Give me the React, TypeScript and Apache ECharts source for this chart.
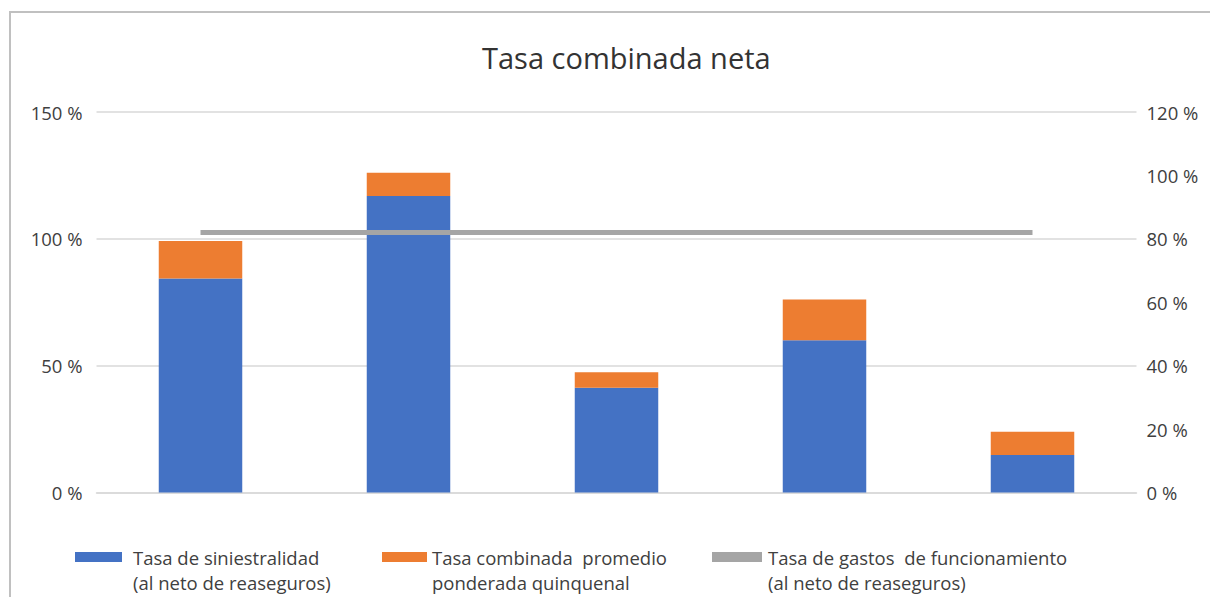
import React, { useEffect, useRef } from "react";
import * as echarts from "echarts";

// Five lines of business (unlabelled on the chart)
const categories = ["1", "2", "3", "4", "5"];
// Loss ratio, net of reinsurance (left axis, %)
const siniestralidad = [84.4, 116.9, 41.3, 60.0, 14.8];
// Additional share up to the five-year weighted combined ratio (left axis, %)
const combinadaPromedio = [14.7, 9.2, 6.1, 16.1, 9.1];
// Operating expense ratio, net of reinsurance (right axis, %)
const gastosFuncionamiento = [82, 82, 82, 82, 82];

const leftTicks = { min: 0, max: 150, interval: 50 };
const rightTicks = { min: 0, max: 120, interval: 20 };

const seriesNames = [
  "Tasa de siniestralidad (al neto de reaseguros)",
  "Tasa combinada promedio ponderada quinquenal",
  "Tasa de gastos de funcionamiento (al neto de reaseguros)",
];
// Two-line legend labels; the leading break keeps the first line level with the swatch
const legendLabels = [
  "\nTasa de siniestralidad\n(al neto de reaseguros)",
  "\nTasa combinada  promedio\nponderada quinquenal",
  "\nTasa de gastos  de funcionamiento\n(al neto de reaseguros)",
];

const FONT = "'Open Sans', 'Noto Sans', sans-serif";
const TEXT = "#404040";
const GRID = "#d9d9d9";
const COLORS = ["#4472C4", "#ED7D31", "#A5A5A5"];

export default function App() {
  const ref = useRef<HTMLDivElement>(null);

  useEffect(() => {
    if (!ref.current) return;
    const chart = echarts.init(ref.current, undefined, { renderer: "svg" });

    const legendAt = (i: number, left: number, width: number, gap: number) => ({
      data: [seriesNames[i]],
      left,
      top: 514.5,
      orient: "horizontal",
      icon: "rect",
      itemWidth: width,
      itemHeight: 10,
      padding: 5,
      selectedMode: false,
      formatter: () => legendLabels[i],
      textStyle: {
        fontFamily: FONT,
        fontSize: 18.5,
        color: TEXT,
        lineHeight: 25,
        padding: [0, 0, 0, gap],
      },
    });

    chart.setOption({
      animation: false,
      backgroundColor: "#ffffff",
      color: COLORS,
      title: {
        text: "Tasa combinada neta",
        left: 477,
        top: 37.5,
        textStyle: {
          fontFamily: FONT,
          fontSize: 29,
          fontWeight: "normal",
          color: "#333333",
        },
      },
      graphic: [
        {
          type: "polyline",
          shape: { points: [[10, 597], [10, 12], [1210, 12]] },
          style: { stroke: "#c0c0c0", lineWidth: 2, fill: "none" },
          silent: true,
        },
      ],
      legend: [
        legendAt(0, 70, 47, 6),
        legendAt(1, 377, 45, 0),
        legendAt(2, 707, 50, 1),
      ],
      grid: { left: 96.5, right: 73.5, top: 112, bottom: 104.5 },
      xAxis: {
        type: "category",
        data: categories,
        axisLine: { show: true, lineStyle: { color: GRID, width: 1.5 } },
        axisTick: { show: false },
        axisLabel: { show: false },
      },
      yAxis: [
        {
          type: "value",
          ...leftTicks,
          axisLine: { show: false },
          axisTick: { show: false },
          splitLine: { show: true, lineStyle: { color: GRID, width: 1.5 } },
          axisLabel: {
            formatter: "{value} %",
            fontFamily: FONT,
            fontSize: 18.5,
            color: TEXT,
            margin: 14,
          },
        },
        {
          type: "value",
          ...rightTicks,
          position: "right",
          axisLine: { show: false },
          axisTick: { show: false },
          splitLine: { show: false },
          axisLabel: {
            formatter: "{value} %",
            fontFamily: FONT,
            fontSize: 18.5,
            color: TEXT,
            margin: 10,
          },
        },
      ],
      series: [
        {
          name: seriesNames[0],
          type: "bar",
          stack: "total",
          barWidth: 83.5,
          data: siniestralidad,
          itemStyle: { color: COLORS[0] },
        },
        {
          name: seriesNames[1],
          type: "bar",
          stack: "total",
          barWidth: 83.5,
          data: combinadaPromedio,
          itemStyle: { color: COLORS[1] },
        },
        {
          name: seriesNames[2],
          type: "line",
          yAxisIndex: 1,
          data: gastosFuncionamiento,
          showSymbol: false,
          symbol: "none",
          lineStyle: { color: COLORS[2], width: 5 },
          itemStyle: { color: COLORS[2] },
        },
      ],
    });

    return () => chart.dispose();
  }, []);

  return (
    <div
      ref={ref}
      style={{ position: "fixed", left: 0, top: 0, width: 1210, height: 597 }}
    />
  );
}
